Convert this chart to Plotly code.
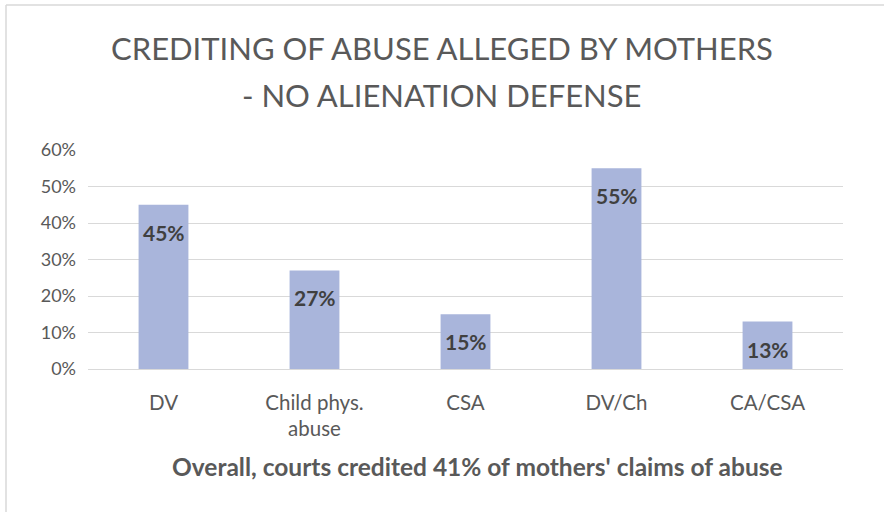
import plotly.graph_objects as go

categories = ["DV", "Child phys.<br>abuse", "CSA", "DV/Ch", "CA/CSA"]
values = [0.45, 0.27, 0.15, 0.55, 0.13]
labels = ["45%", "27%", "15%", "55%", "13%"]
tick_vals = [0, 0.1, 0.2, 0.3, 0.4, 0.5, 0.6]
tick_text = ["0%", "10%", "20%", "30%", "40%", "50%", "60%"]

title_line1 = "CREDITING OF ABUSE ALLEGED BY MOTHERS"
title_line2 = "- NO ALIENATION DEFENSE"
axis_title = "Overall, courts credited 41% of mothers' claims of abuse"

FONT = "Lato, 'Open Sans', sans-serif"

fig = go.Figure()
fig.add_trace(go.Bar(
    x=categories, y=values,
    marker=dict(color="#A9B5DB", line=dict(width=0)),
    width=0.33,
    hoverinfo="skip",
))

for c, v, t in zip(categories, values, labels):
    fig.add_annotation(
        x=c, y=v, xref="x", yref="y", text="<b>%s</b>" % t,
        showarrow=False, yanchor="top", yshift=-13,
        font=dict(family=FONT, size=21, color="#404040"),
    )

L, R, T, B = 88, 41, 150, 143
W, H = 884, 512
pw, ph = W - L - R, H - T - B

fig.add_annotation(
    x=(477 - L) / pw, y=(H - B - 467) / ph, xref="paper", yref="paper",
    text="<b>%s</b>" % axis_title, showarrow=False,
    xanchor="center", yanchor="middle",
    font=dict(family=FONT, size=24.5, color="#595959"),
)

# chart title (two lines, Excel-like line spacing)
fig.add_annotation(
    x=(442 - L) / pw, y=(H - B - 48) / ph, xref="paper", yref="paper",
    text=title_line1, showarrow=False, xanchor="center", yanchor="middle",
    font=dict(family=FONT, size=31, color="#595959"),
)
fig.add_annotation(
    x=(442 - L) / pw, y=(H - B - 95) / ph, xref="paper", yref="paper",
    text=title_line2, showarrow=False, xanchor="center", yanchor="middle",
    font=dict(family=FONT, size=31, color="#595959"),
)

# chart outer border (left and top)
fig.add_shape(type="line", xref="paper", yref="paper",
              x0=(6 - L) / pw, x1=(6 - L) / pw, y0=(H - B - 512) / ph, y1=(H - B - 5) / ph,
              line=dict(color="#D9D9D9", width=1.5))
fig.add_shape(type="line", xref="paper", yref="paper",
              x0=(6 - L) / pw, x1=(884 - L) / pw, y0=(H - B - 5) / ph, y1=(H - B - 5) / ph,
              line=dict(color="#D9D9D9", width=1.5))

fig.update_layout(
    width=W, height=H,
    margin=dict(l=L, r=R, t=T, b=B),
    paper_bgcolor="white", plot_bgcolor="white",
    showlegend=False,
    font=dict(family=FONT, color="#595959"),
)
fig.update_xaxes(
    showgrid=False, showline=False, zeroline=False,
    tickfont=dict(family=FONT, size=20.5, color="#595959"),
    ticks="", ticklabelstandoff=19,
)
fig.update_yaxes(
    range=[0, 0.6], tickvals=tick_vals, ticktext=tick_text,
    showgrid=True, gridcolor="#D9D9D9", gridwidth=1.3,
    zeroline=True, zerolinecolor="#D9D9D9", zerolinewidth=1.3,
    showline=False, ticks="", ticklabelstandoff=11,
    tickfont=dict(family=FONT, size=18, color="#595959"),
)

fig.write_html("out.html",
               config={"displayModeBar": False},
               post_script="document.body.style.margin='0';document.body.style.overflow='hidden';")
